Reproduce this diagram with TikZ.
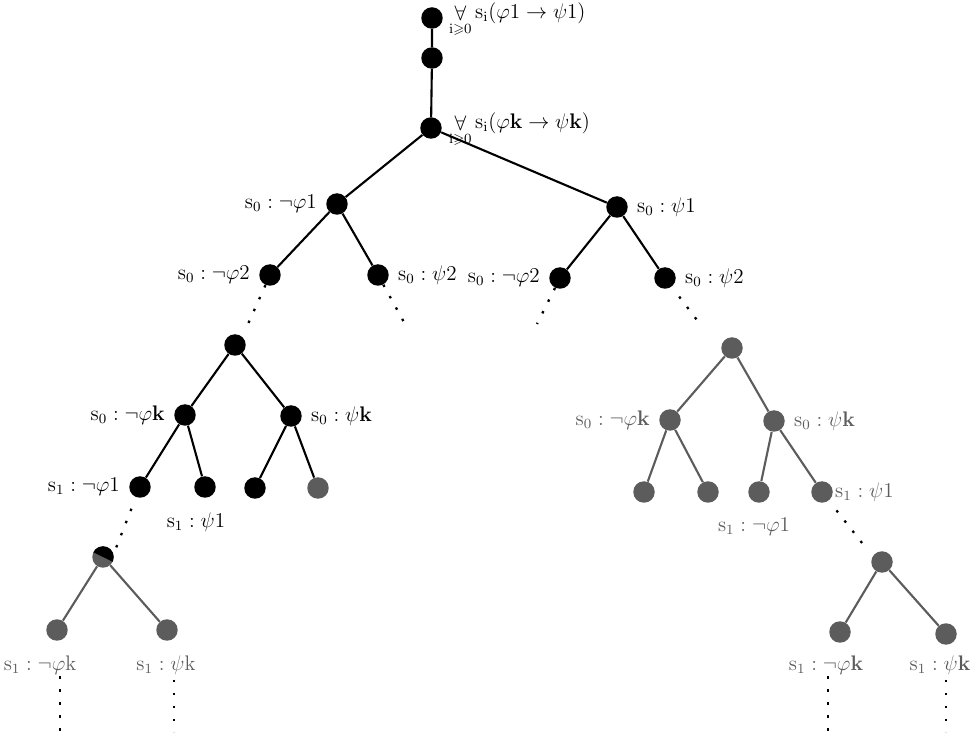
\documentclass[tikz,border=0pt]{standalone}
\usepackage{amsfonts,amssymb,amsmath}
\usepackage{tikz}
\usepackage{xcolor}
\usetikzlibrary{positioning}
\definecolor{shade}{gray}{0.36}
\newcommand{\st}[1]{\mathrm{s}_{#1}}

\begin{document}
\begin{tikzpicture}[x=0.02cm,y=-0.02cm,
  dot/.style={circle,fill=black,inner sep=0pt,minimum size=0.43cm},
  gdot/.style={dot,fill=shade},
  edge/.style={line width=1.2pt},
  gedge/.style={edge,draw=shade},
  trail/.style={line width=1.3pt,dash pattern=on 1.4pt off 6pt,shorten <=7pt},
  lbl/.style={font=\large,inner sep=1pt},
  glbl/.style={lbl,text=shade}]
\useasboundingbox (0,0) rectangle (975,736);
% spine
\node[dot] (r1) at (432,18) {};
\node[dot] (r2) at (432,58) {};
\node[dot] (r3) at (431,128) {};
\node[lbl,anchor=west] (t1) at (447,20) {$\mathop{\forall}\limits_{\mathrm{i}\geqslant0} \st{\mathrm{i}}(\varphi1\rightarrow\psi1)$};
\node[lbl,anchor=west] (t3) at (447,130) {$\mathop{\forall}\limits_{\mathrm{i}\geqslant0} \st{\mathrm{i}}(\varphi\mathbf{k}\rightarrow\psi\mathbf{k})$};
\draw[edge] (r1)--(r2) (r2)--(r3);
% first level
\node[dot] (a) at (337,204) {};
\node[dot] (b) at (617,207) {};
\draw[edge] (r3)--(a) (r3)--(b);
\node[lbl,left=4pt of a] (la) {$\st0:\neg\varphi1$};
\node[lbl,right=4pt of b] (lb) {$\st0:\psi1$};
\node[dot] (aa) at (270,275) {};
\node[dot] (ab) at (378,275) {};
\node[dot] (ba) at (560,278) {};
\node[dot] (bb) at (665,278) {};
\draw[edge] (a)--(aa) (a)--(ab) (b)--(ba) (b)--(bb);
\node[lbl,left=4pt of aa] (laa) {$\st0:\neg\varphi2$};
\node[lbl,right=4pt of ab] (lab) {$\st0:\psi2$};
\node[lbl,left=4pt of ba] (lba) {$\st0:\neg\varphi2$};
\node[lbl,right=4pt of bb] (lbb) {$\st0:\psi2$};
\coordinate (aa-e) at (248,324);
\coordinate (ab-e) at (405,324);
\coordinate (ba-e) at (537,324);
\coordinate (bb-e) at (700,324);
\draw[trail] (aa)--(aa-e) (ab)--(ab-e) (ba)--(ba-e) (bb)--(bb-e);
% left subtree
\node[dot] (c) at (235,345) {};
\node[dot] (ca) at (185,415) {};
\node[dot] (cb) at (291,416) {};
\draw[edge] (c)--(ca) (c)--(cb);
\node[lbl,left=4pt of ca] (lca) {$\st0:\neg\varphi\mathbf{k}$};
\node[lbl,right=4pt of cb] (lcb) {$\st0:\psi\mathbf{k}$};
\node[dot] (caa) at (140,487) {};
\node[dot] (cab) at (205,487) {};
\node[dot] (cba) at (255,488) {};
\node[gdot] (cbb) at (318,488) {};
\draw[edge] (ca)--(caa) (ca)--(cab) (cb)--(cba) (cb)--(cbb);
\node[lbl,left=4pt of caa] (lcaa) {$\st1:\neg\varphi1$};
\node[lbl] (lcab) at (196,522) {$\st1:\psi1$};
\coordinate (caa-e) at (116,548);
\draw[trail] (caa)--(caa-e);
\node[gdot,path picture={\fill[black] (path picture bounding box.north west) -- (path picture bounding box.north east) -- ([yshift=-3pt]path picture bounding box.east) -- ([yshift=3pt]path picture bounding box.west) -- cycle;}] (d) at (103,557) {};
\node[gdot] (da) at (57,630) {};
\node[gdot] (db) at (167,630) {};
\draw[gedge] (d)--(da) (d)--(db);
\node[glbl] (lda) at (40,665) {$\st1:\neg\varphi\mathrm{k}$};
\node[glbl] (ldb) at (166,665) {$\st1:\psi\mathrm{k}$};
\coordinate (da-e) at (60,732);
\coordinate (db-e) at (174,732);
\draw[trail,shorten <=2pt] (lda.south -| da-e)--(da-e) (ldb.south -| db-e)--(db-e);
% right subtree
\node[gdot] (e) at (732,348) {};
\node[gdot] (ea) at (670,420) {};
\node[gdot] (eb) at (774,421) {};
\draw[gedge] (e)--(ea) (e)--(eb);
\node[glbl,left=4pt of ea] (lea) {$\st0:\neg\varphi\mathbf{k}$};
\node[glbl,right=4pt of eb] (leb) {$\st0:\psi\mathbf{k}$};
\node[gdot] (eaa) at (644,492) {};
\node[gdot] (eab) at (708,492) {};
\node[gdot] (eba) at (759,492) {};
\node[gdot] (ebb) at (822,492) {};
\draw[gedge] (ea)--(eaa) (ea)--(eab) (eb)--(eba) (eb)--(ebb);
\node[glbl,right=0pt of ebb] (lebb) {$\st1:\psi1$};
\node[glbl] (leba) at (754,527) {$\st1:\neg\varphi1$};
\coordinate (ebb-e) at (866,548);
\draw[trail] (ebb)--(ebb-e);
\node[gdot] (f) at (882,562) {};
\node[gdot] (fa) at (840,632) {};
\node[gdot] (fb) at (946,634) {};
\draw[gedge] (f)--(fa) (f)--(fb);
\node[glbl] (lfa) at (826,665) {$\st1:\neg\varphi\mathbf{k}$};
\node[glbl] (lfb) at (940,665) {$\st1:\psi\mathbf{k}$};
\coordinate (fa-e) at (828,732);
\coordinate (fb-e) at (946,732);
\draw[trail,shorten <=2pt] (lfa.south -| fa-e)--(fa-e) (lfb.south -| fb-e)--(fb-e);
\end{tikzpicture}
\end{document}
